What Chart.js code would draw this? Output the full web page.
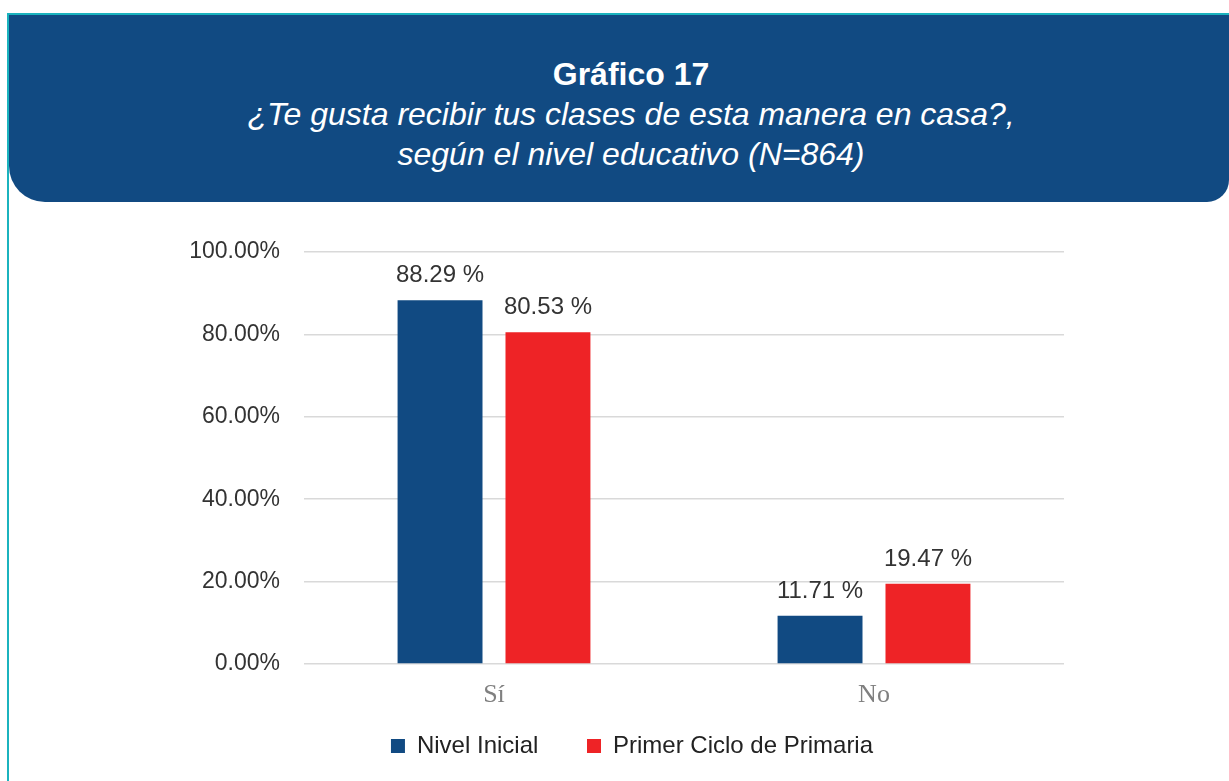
<!DOCTYPE html>
<html lang="es">
<head>
<meta charset="utf-8">
<title>Gráfico 17</title>
<script src="https://cdn.jsdelivr.net/npm/chart.js@4.4.1/dist/chart.umd.min.js"></script>
<style>
    html, body { margin: 0; padding: 0; background: #fff; }
    body { width: 1229px; height: 781px; position: relative; overflow: hidden; font-family: "Liberation Sans", Arial, sans-serif; }
    .line-top { position: absolute; left: 7px; top: 13px; width: 1222px; height: 2px; background: #1bb3be; }
    .line-left { position: absolute; left: 7px; top: 13px; width: 2px; height: 768px; background: #1bb3be; }
    .banner {
        position: absolute; left: 9px; top: 15px; width: 1220px; height: 187px;
        background: #114a82; border-radius: 0 0 22px 36px;
        color: #fff; text-align: center;
    }
    .banner .t1 { position: absolute; left: 0; width: 1244px; top: 39px; font-size: 32px; font-weight: bold; line-height: 40px; }
    .banner .t2 { position: absolute; left: 0; width: 1244px; top: 79px; font-size: 32px; font-style: italic; line-height: 40px; }
    #wrap { position: absolute; left: 0; top: 205px; width: 1229px; height: 576px; }
</style>
</head>
<body>
<div class="line-top"></div>
<div class="line-left"></div>
<div class="banner">
    <div class="t1">Gráfico 17</div>
    <div class="t2">¿Te gusta recibir tus clases de esta manera en casa?,<br>según el nivel educativo (N=864)</div>
</div>
<div id="wrap"><canvas id="myChart"></canvas></div>
<script>
const categories = ['Sí', 'No'];
const nivelInicial = [88.29, 11.71];
const primerCiclo = [80.53, 19.47];
const yTicks = [0, 20, 40, 60, 80, 100];

// etiquetas de valor encima de cada barra
const valueLabels = {
    id: 'valueLabels',
    afterDatasetsDraw(chart) {
        const ctx = chart.ctx;
        ctx.save();
        ctx.font = '24px "Liberation Sans", Arial, sans-serif';
        ctx.fillStyle = '#333333';
        ctx.textAlign = 'center';
        ctx.textBaseline = 'alphabetic';
        chart.data.datasets.forEach(function (ds, i) {
            chart.getDatasetMeta(i).data.forEach(function (bar, j) {
                ctx.fillText(ds.data[j].toFixed(2) + ' %', bar.x, bar.y - 18);
            });
        });
        ctx.restore();
    }
};

const data = {
    labels: categories,
    datasets: [{
        label: 'Nivel Inicial',
        data: nivelInicial,
        backgroundColor: '#114a82'
    }, {
        label: 'Primer Ciclo de Primaria',
        data: primerCiclo,
        backgroundColor: '#ee2326'
    }]
};

const config = {
    type: 'bar',
    data: data,
    options: {
        responsive: true,
        maintainAspectRatio: false,
        animation: false,
        layout: { padding: { left: 180, right: 145, top: 47, bottom: 13 } },
        datasets: { bar: { categoryPercentage: 0.568, barPercentage: 0.787 } },
        plugins: {
            tooltip: { enabled: false },
            legend: {
                position: 'bottom',
                labels: {
                    boxWidth: 14,
                    boxHeight: 14,
                    padding: 22,
                    color: '#222222',
                    font: { family: '"Liberation Sans", Arial, sans-serif', size: 24 },
                    // separación extra entre elementos de la leyenda
                    generateLabels: function (chart) {
                        const items = Chart.defaults.plugins.legend.labels.generateLabels(chart);
                        items.forEach(function (it, i) {
                            if (i < items.length - 1) it.text = it.text + '    ';
                        });
                        return items;
                    }
                }
            }
        },
        scales: {
            x: {
                grid: { display: false },
                border: { display: false },
                ticks: {
                    color: '#808080',
                    padding: 8,
                    font: { family: '"Liberation Serif", "Times New Roman", serif', size: 26 }
                },
                afterFit: function (scale) { scale.height = 48; }
            },
            y: {
                min: 0,
                max: 100,
                border: { display: false },
                grid: { color: '#d9d9d9', lineWidth: 1.5, drawTicks: false },
                afterBuildTicks: function (scale) {
                    scale.ticks = yTicks.map(function (v) { return { value: v }; });
                },
                ticks: {
                    color: '#333333',
                    padding: 24,
                    font: { family: '"Liberation Sans", Arial, sans-serif', size: 23 },
                    callback: function (v) { return v.toFixed(2) + '%'; }
                },
                afterFit: function (scale) { scale.width = 124; }
            },
            // eje vacío a la derecha, solo para centrar la leyenda
            yRight: {
                type: 'linear',
                position: 'right',
                grid: { display: false },
                border: { display: false },
                ticks: { display: false },
                afterFit: function (scale) { scale.width = 20; }
            }
        }
    },
    plugins: [valueLabels]
};

const myChart = new Chart(document.getElementById('myChart'), config);
</script>
</body>
</html>
